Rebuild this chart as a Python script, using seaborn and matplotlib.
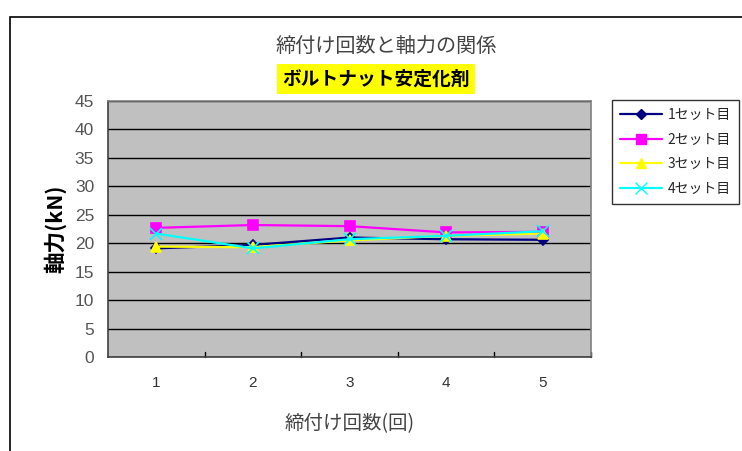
import matplotlib
matplotlib.use("Agg")
import matplotlib.pyplot as plt
import seaborn as sns
import pandas as pd
from matplotlib.patches import Rectangle

# Axial force (kN) per tightening count, four test sets
counts = [1, 2, 3, 4, 5]
set1 = [19.1, 19.7, 21.0, 20.7, 20.6]
set2 = [22.7, 23.2, 23.0, 21.9, 22.0]
set3 = [19.4, 19.3, 20.5, 21.3, 21.7]
set4 = [21.7, 19.1, 20.7, 21.3, 22.1]
series_names = ["1セット目", "2セット目", "3セット目", "4セット目"]
colors = ["#000080", "#FF00FF", "#FFFF00", "#00FFFF"]
markers = ["D", "s", "^", "x"]
marker_sizes = [5, 7, 7, 8]
yticks = [0, 5, 10, 15, 20, 25, 30, 35, 40, 45]

df = pd.DataFrame({
    "count": counts * 4,
    "force": set1 + set2 + set3 + set4,
    "set": [n for n in series_names for _ in counts],
})

sns.set_theme(style="white")
plt.rcParams["font.family"] = ["Noto Sans CJK JP", "DejaVu Sans"]

W, H = 742, 451
fig = plt.figure(figsize=(W / 100, H / 100), dpi=100)
fig.patch.set_facecolor("white")

# outer chart frame (top and left edges visible)
fig.patches.append(Rectangle((10 / W, -0.1), 1.2, (H - 17) / H + 0.1,
                             transform=fig.transFigure, fill=False,
                             edgecolor="black", linewidth=1.2))

left, right, top, bottom = 108, 591, 101, 357
ax = fig.add_axes([left / W, 1 - bottom / H, (right - left) / W, (bottom - top) / H])
ax.set_facecolor("#C0C0C0")

for name, c, m, ms in zip(series_names, colors, markers, marker_sizes):
    sns.lineplot(data=df[df["set"] == name], x="count", y="force", ax=ax,
                 color=c, marker=m, markersize=ms, markerfacecolor=c,
                 markeredgecolor=c, markeredgewidth=1.2, linewidth=1.6,
                 legend=False)

ax.set_xlim(0.5, 5.5)
ax.set_ylim(0, 45)
ax.set_yticks(yticks)
ax.set_yticklabels([str(v) for v in yticks], color="#555555", fontsize=12.5,
                   family=["Liberation Sans", "DejaVu Sans"])
ax.set_xticks(counts)
ax.set_xticklabels([str(v) for v in counts], color="#333333", fontsize=11,
                   family=["Liberation Sans", "DejaVu Sans"])
ax.tick_params(axis="x", length=0, pad=14)
ax.tick_params(axis="y", length=0, pad=10)
# boundary tick marks between categories
for xb in [1.5, 2.5, 3.5, 4.5, 5.5]:
    ax.plot([xb, xb], [0, 0.9], color="black", linewidth=1, clip_on=False)

ax.grid(True, axis="y", color="black", linewidth=1)
ax.set_axisbelow(True)
for side, sp in ax.spines.items():
    sp.set_visible(True)
    sp.set_color("#808080")
    sp.set_linewidth(1.2)
ax.spines["left"].set_color("#404040")
ax.spines["bottom"].set_color("#404040")

ax.set_xlabel("締付け回数(回)", fontsize=14, color="#444444", labelpad=16)
ax.set_ylabel("軸力(kN)", fontsize=15.5, fontweight="bold", color="black", labelpad=6)

fig.text(386 / W, 1 - 46 / H, "締付け回数と軸力の関係", ha="center", va="center",
         fontsize=14.5, color="#444444")
fig.text(376 / W, 1 - 79 / H, "ボルトナット安定化剤", ha="center", va="center",
         fontsize=13.5, fontweight="bold", color="black",
         bbox=dict(boxstyle="square,pad=0.3", facecolor="#FFFF00", edgecolor="none"))

handles = [plt.Line2D([], [], color=c, marker=m, markersize=ms,
                      markerfacecolor=c, markeredgecolor=c, linewidth=1.6)
           for c, m, ms in zip(colors, markers, marker_sizes)]
leg = fig.legend(handles, series_names, loc="upper left",
                 bbox_to_anchor=(612 / W, 1 - 100 / H), borderaxespad=0,
                 frameon=True, fancybox=False, edgecolor="black", fontsize=10,
                 handlelength=3, handletextpad=0.4, borderpad=0.6,
                 labelspacing=0.75)
leg.get_frame().set_linewidth(1)

fig.savefig("out.png", dpi=100, facecolor="white")
